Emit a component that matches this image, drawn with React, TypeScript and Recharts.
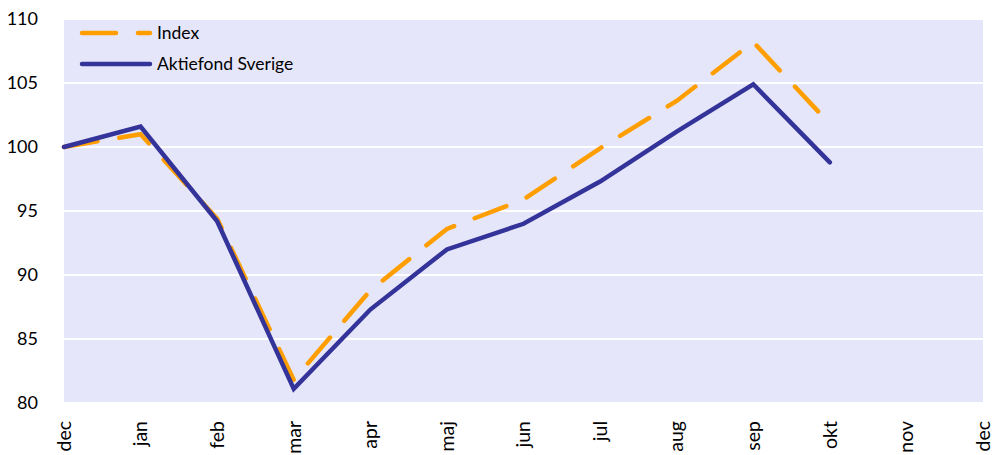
import { LineChart, Line, XAxis, YAxis, CartesianGrid } from "recharts";

const months = ["dec", "jan", "feb", "mar", "apr", "maj", "jun", "jul", "aug", "sep", "okt", "nov", "dec"];
const indexValues = [100, 101.0, 94.4, 81.8, 88.8, 93.6, 95.9, 99.9, 103.6, 108.2, 101.8, null, null];
const fundValues = [100, 101.6, 94.2, 81.1, 87.3, 92.0, 94.0, 97.3, 101.2, 104.9, 98.8, null, null];
const yTicks = [80, 85, 90, 95, 100, 105, 110];

const ORANGE = "#FF9E00";
const NAVY = "#333399";
const FONT = "Lato, 'Open Sans', sans-serif";

const data = months.map((m, i) => ({
  key: i,
  month: m,
  index: indexValues[i],
  fund: fundValues[i],
}));

const MonthTick = ({ x, y, payload }: any) => (
  <text
    x={0}
    y={0}
    transform={`translate(${x},${y + 10}) rotate(-90)`}
    textAnchor="end"
    dy="0.35em"
    fontSize={19.5}
    fontFamily={FONT}
    fill="#000"
  >
    {months[payload.value]}
  </text>
);

const ValueTick = ({ x, y, payload }: any) => (
  <text x={x - 18} y={y} textAnchor="end" dy="0.35em" fontSize={18} fontFamily={FONT} fill="#000">
    {payload.value}
  </text>
);

const LegendBox = () => (
  <svg width={300} height={60} style={{ position: "absolute", left: 64, top: 18 }}>
    <line x1={18} y1={15} x2={86} y2={15} stroke={ORANGE} strokeWidth={4.5} strokeDasharray="34 22" strokeLinecap="round" />
    <text x={93} y={15} dy="0.35em" fontSize={17.5} fontFamily={FONT} fill="#000">Index</text>
    <line x1={18} y1={46} x2={86} y2={46} stroke={NAVY} strokeWidth={4.5} strokeLinecap="round" />
    <text x={93} y={46} dy="0.35em" fontSize={17.5} fontFamily={FONT} fill="#000">Aktiefond Sverige</text>
  </svg>
);

export default function App() {
  return (
    <div style={{ position: "absolute", left: 0, top: 0, width: 994, height: 455, background: "#fff" }}>
      <LineChart width={994} height={455} data={data} margin={{ top: 19, right: 11, bottom: 0, left: 0 }}>
        <CartesianGrid fill="#E6E6FA" stroke="#FFFFFF" strokeWidth={2} vertical={false} />
        <XAxis dataKey="key" type="category" axisLine={false} tickLine={false} height={52} tick={<MonthTick />} interval={0} />
        <YAxis domain={[80, 110]} ticks={yTicks} axisLine={false} tickLine={false} width={64} tick={<ValueTick />} />
        <Line dataKey="index" stroke={ORANGE} strokeWidth={4.5} strokeDasharray="34 22" strokeLinecap="round" dot={false} isAnimationActive={false} />
        <Line dataKey="fund" stroke={NAVY} strokeWidth={4.5} strokeLinecap="round" dot={false} isAnimationActive={false} />
      </LineChart>
      <LegendBox />
    </div>
  );
}
